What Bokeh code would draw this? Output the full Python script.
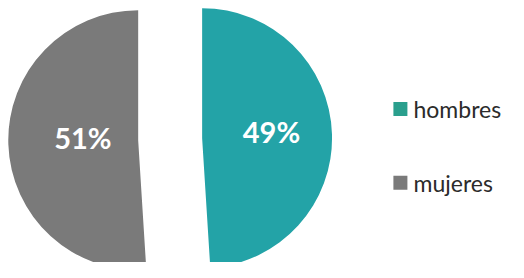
import math
from bokeh.plotting import figure
from bokeh.models import Range1d, ColumnDataSource
from bokeh.core.properties import value
from bokeh.embed import file_html
from bokeh.resources import INLINE

categories = ["hombres", "mujeres"]
percent = [49, 51]
labels = ["49%", "51%"]
colors = ["#23A3A7", "#7A7A7A"]
legend_colors = ["#2A9F8D", "#7A7A7A"]

W, H = 508, 262
s = W / 524.0  # reference layout scaled into the figure

p = figure(width=W, height=H, output_backend="svg", toolbar_location=None,
           x_range=Range1d(0, W), y_range=Range1d(0, H), min_border=0)
p.axis.visible = False
p.grid.visible = False
p.outline_line_color = None
p.background_fill_color = "white"
p.border_fill_color = "white"

# pie geometry (y measured upward from the bottom of the figure)
cx, cy, r, explode = 175.0 * s, H - 143.0 * s, 134.0 * s, 33.0 * s
total = float(sum(percent))
start = math.pi / 2
xs, ys, sa, ea, lx, ly = [], [], [], [], [], []
for v in percent:
    sweep = 2 * math.pi * v / total
    end = start - sweep  # clockwise
    mid = (start + end) / 2
    ox = cx + explode * math.cos(mid)
    oy = cy + explode * math.sin(mid)
    xs.append(ox); ys.append(oy)
    sa.append(end); ea.append(start)
    lx.append(ox + 0.48 * r * math.cos(mid) + 7)
    ly.append(oy + 0.48 * r * math.sin(mid) + 5)
    start = end

src = ColumnDataSource(dict(x=xs, y=ys, sa=sa, ea=ea, color=colors,
                            lx=lx, ly=ly, label=labels))
p.wedge(x="x", y="y", radius=r, start_angle="sa", end_angle="ea",
        fill_color="color", line_color=None, source=src)
p.text(x="lx", y="ly", text="label", text_color="white",
       text_font=value("Lato"), text_font_style="bold",
       text_font_size="29px", text_align="center", text_baseline="middle",
       source=src)

# legend
leg_y = [H - 112 * s, H - 188 * s]
lsrc = ColumnDataSource(dict(y=leg_y, color=legend_colors, name=categories))
p.rect(x=412.5 * s, y="y", width=14, height=14, fill_color="color",
       line_color=None, source=lsrc)
p.text(x=426 * s, y="y", text="name", text_color="#2b2b2b",
       text_font=value("Lato"), text_font_size="23px",
       text_align="left", text_baseline="middle", source=lsrc)

open("out.html", "w").write(file_html(p, INLINE))
